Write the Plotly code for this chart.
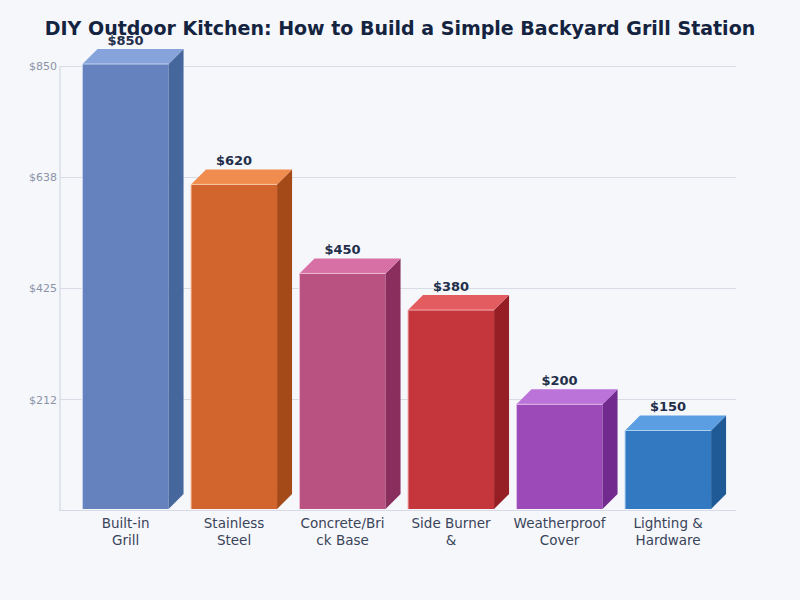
import plotly.graph_objects as go

categories = ["Built-in<br>Grill", "Stainless<br>Steel", "Concrete/Bri<br>ck Base",
              "Side Burner<br>&", "Weatherproof<br>Cover", "Lighting &<br>Hardware"]
values = [850, 620, 450, 380, 200, 150]
value_labels = ["$850", "$620", "$450", "$380", "$200", "$150"]
y_ticks = [212.5, 425, 637.5, 850]
y_tick_labels = ["$212", "$425", "$638", "$850"]

front_colors = ["#6582be", "#d2652d", "#b95280", "#c5363c", "#9c4ab8", "#3379c2"]
side_colors = ["#46679b", "#a34a18", "#8a2e5e", "#951f24", "#722a8e", "#1f5a96"]
top_colors = ["#87a3dc", "#f08c4e", "#d770a5", "#e25c60", "#bb72d9", "#5b9fe2"]
edge_colors = ["#c3d1ee", "#f8c6a7", "#ebb8d2", "#f1aeb0", "#ddb9ec", "#add0f1"]

# extrusion in axis units (one category = 108.5px, 850 = 445px)
bar_width = 0.793
depth_x = 0.138
depth_y = 28.65
base = 3.8
y_top = 937.87  # headroom so the tallest bar and its label are not clipped

fig = go.Figure()

positions = list(range(len(values)))

fig.add_trace(go.Bar(
    x=positions, y=values, base=base, width=bar_width,
    marker=dict(color=front_colors, line=dict(width=0)),
    hoverinfo="skip", showlegend=False,
))

for i, value in enumerate(values):
    left = i - bar_width / 2
    right = i + bar_width / 2
    top = value + base
    # side face
    fig.add_trace(go.Scatter(
        x=[right, right + depth_x, right + depth_x, right, right],
        y=[base, base + depth_y, top + depth_y, top, base],
        mode="lines", fill="toself", fillcolor=side_colors[i], line=dict(width=0),
        hoverinfo="skip", showlegend=False,
    ))
    # top face
    fig.add_trace(go.Scatter(
        x=[left, left + depth_x, right + depth_x, right, left],
        y=[top, top + depth_y, top + depth_y, top, top],
        mode="lines", fill="toself", fillcolor=top_colors[i], line=dict(width=0),
        hoverinfo="skip", showlegend=False,
    ))
    # light edge on the front face
    fig.add_trace(go.Scatter(
        x=[left, left, right], y=[base, top, top],
        mode="lines", line=dict(color=edge_colors[i], width=1),
        hoverinfo="skip", showlegend=False,
    ))

fig.add_trace(go.Scatter(
    x=positions,
    y=[v + base + depth_y + 2 for v in values],
    mode="text",
    text=["<b>" + t + "</b>" for t in value_labels],
    textposition="top center",
    textfont=dict(family="DejaVu Sans", size=13, color="#232f4a"),
    hoverinfo="skip", showlegend=False,
))

fig.update_layout(
    width=800, height=600,
    autosize=False,
    paper_bgcolor="#f5f7fb",
    plot_bgcolor="#f5f7fb",
    margin=dict(l=60, r=64, t=20, b=89, autoexpand=False),
    title=dict(
        text="<b>DIY Outdoor Kitchen: How to Build a Simple Backyard Grill Station</b>",
        x=0.5, xanchor="center", y=0.953, yanchor="middle",
        font=dict(family="DejaVu Sans", size=19, color="#14233f"),
    ),
    xaxis=dict(
        range=[-0.604, 5.626],
        tickvals=positions, ticktext=categories,
        tickfont=dict(family="DejaVu Sans", size=13.5, color="#3a4459"),
        showgrid=False, zeroline=False, ticks="", ticklabelstandoff=2,
        showline=False,
    ),
    yaxis=dict(
        range=[0, y_top],
        tickvals=y_ticks, ticktext=y_tick_labels,
        tickfont=dict(family="DejaVu Sans", size=11, color="#8b93a5"),
        showgrid=True, gridcolor="#d8dce5", gridwidth=1,
        zeroline=False, ticks="", ticklabelstandoff=2,
        showline=False,
    ),
)

# axis lines: the left one stops at the top tick, the headroom above stays empty
fig.add_shape(type="line", xref="paper", x0=0, x1=0, yref="y", y0=0, y1=max(y_ticks),
              line=dict(color="#ccd1dc", width=1), layer="below")
fig.add_shape(type="line", xref="paper", x0=0, x1=1, yref="y", y0=0, y1=0,
              line=dict(color="#ccd1dc", width=1.5), layer="below")

# page default margin would push the figure 8px off the corner
fig.write_html("out.html", config={"displayModeBar": False},
               post_script="document.body.style.margin = '0';")
